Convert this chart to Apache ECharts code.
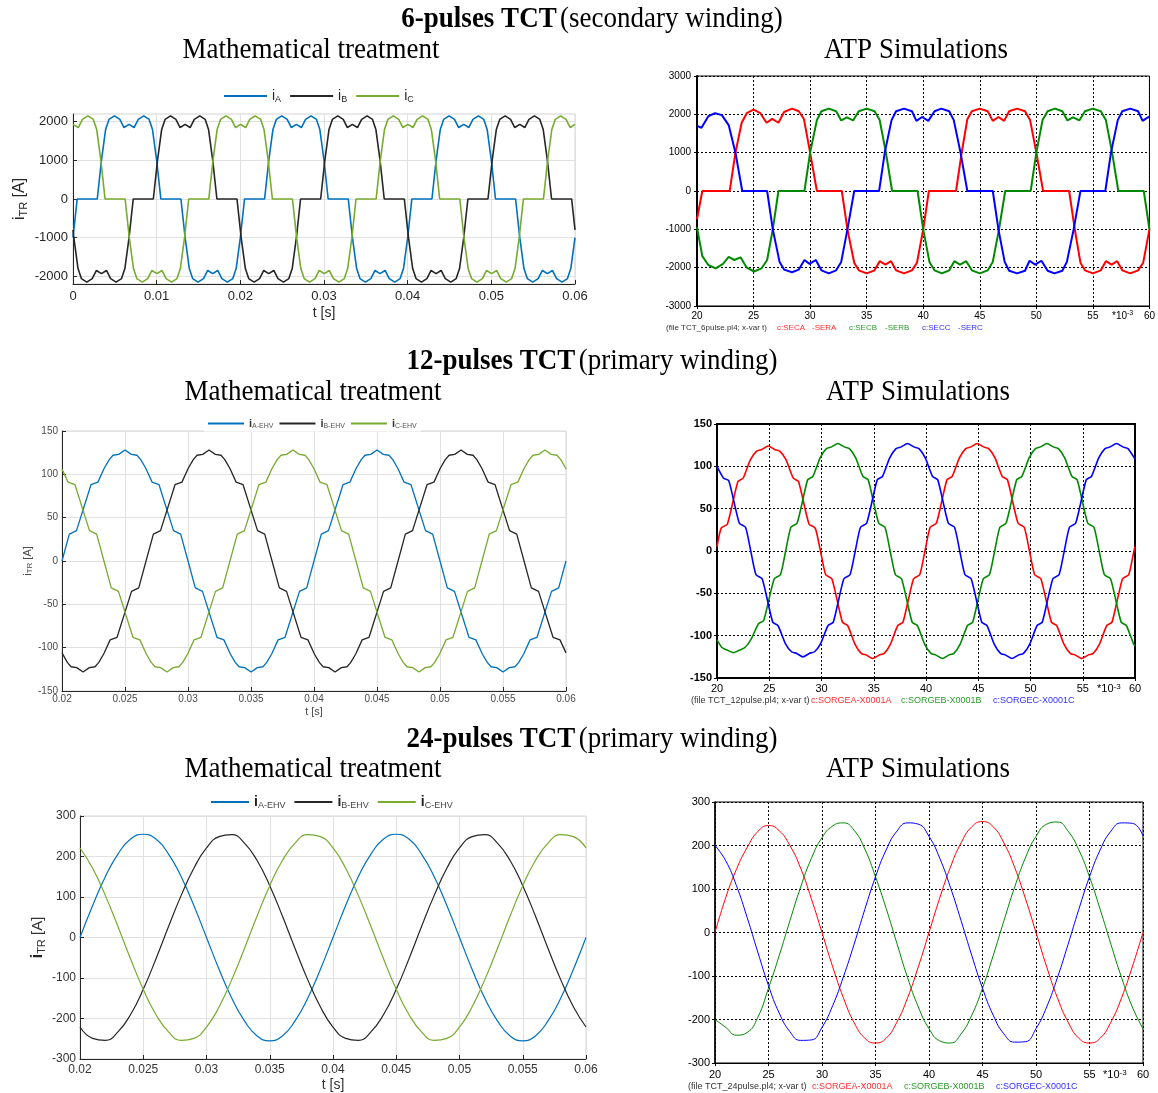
<!DOCTYPE html>
<html><head><meta charset="utf-8">
<script src="https://cdn.jsdelivr.net/npm/echarts@6/dist/echarts.min.js"></script>
<style>html,body{margin:0;padding:0;background:#fff}#c{width:1158px;height:1093px}</style>
</head><body><div id="c"></div>
<script>
// ===== DATA (time in ms, current in A) =====
// 6-pulse, mathematical treatment
const math6A = [[0,-1000],[0.5,0],[2.9,0],[3.4,1000],[3.9,1800],[4.3,2060],[4.95,2150],[5.6,2060],[6.1,1850],[6.7,1930],[7.3,1850],[7.8,2060],[8.45,2150],[9.1,2060],[9.5,1800],[10,1000],[10.5,0],
[12.9,0],[13.4,-1000],[13.9,-1800],[14.3,-2060],[14.95,-2150],[15.6,-2060],[16.1,-1850],[16.7,-1930],[17.3,-1850],[17.8,-2060],[18.45,-2150],[19.1,-2060],[19.5,-1800],[20,-1000],[20.5,0],
[22.9,0],[23.4,1000],[23.9,1800],[24.3,2060],[24.95,2150],[25.6,2060],[26.1,1850],[26.7,1930],[27.3,1850],[27.8,2060],[28.45,2150],[29.1,2060],[29.5,1800],[30,1000],[30.5,0],
[32.9,0],[33.4,-1000],[33.9,-1800],[34.3,-2060],[34.95,-2150],[35.6,-2060],[36.1,-1850],[36.7,-1930],[37.3,-1850],[37.8,-2060],[38.45,-2150],[39.1,-2060],[39.5,-1800],[40,-1000],[40.5,0],
[42.9,0],[43.4,1000],[43.9,1800],[44.3,2060],[44.95,2150],[45.6,2060],[46.1,1850],[46.7,1930],[47.3,1850],[47.8,2060],[48.45,2150],[49.1,2060],[49.5,1800],[50,1000],[50.5,0],
[52.9,0],[53.4,-1000],[53.9,-1800],[54.3,-2060],[54.95,-2150],[55.6,-2060],[56.1,-1850],[56.7,-1930],[57.3,-1850],[57.8,-2060],[58.45,-2150],[59.1,-2060],[59.5,-1800],[60,-1000]];
const math6B = [[0,-800],[0.1,-1000],[0.6,-1800],[1.0,-2060],[1.65,-2150],[2.3,-2060],[2.8,-1850],[3.4,-1930],[4.0,-1850],[4.5,-2060],[5.15,-2150],[5.8,-2060],[6.2,-1800],[6.7,-1000],[7.2,0],
[9.6,0],[10.1,1000],[10.6,1800],[11.0,2060],[11.65,2150],[12.3,2060],[12.8,1850],[13.4,1930],[14.0,1850],[14.5,2060],[15.15,2150],[15.8,2060],[16.2,1800],[16.7,1000],[17.2,0],
[19.6,0],[20.1,-1000],[20.6,-1800],[21.0,-2060],[21.65,-2150],[22.3,-2060],[22.8,-1850],[23.4,-1930],[24.0,-1850],[24.5,-2060],[25.15,-2150],[25.8,-2060],[26.2,-1800],[26.7,-1000],[27.2,0],
[29.6,0],[30.1,1000],[30.6,1800],[31.0,2060],[31.65,2150],[32.3,2060],[32.8,1850],[33.4,1930],[34.0,1850],[34.5,2060],[35.15,2150],[35.8,2060],[36.2,1800],[36.7,1000],[37.2,0],
[39.6,0],[40.1,-1000],[40.6,-1800],[41.0,-2060],[41.65,-2150],[42.3,-2060],[42.8,-1850],[43.4,-1930],[44.0,-1850],[44.5,-2060],[45.15,-2150],[45.8,-2060],[46.2,-1800],[46.7,-1000],[47.2,0],
[49.6,0],[50.1,1000],[50.6,1800],[51.0,2060],[51.65,2150],[52.3,2060],[52.8,1850],[53.4,1930],[54.0,1850],[54.5,2060],[55.15,2150],[55.8,2060],[56.2,1800],[56.7,1000],[57.2,0],
[59.6,0],[60,-800]];
const math6C = [[0,1930],[0.63,1850],[1.13,2060],[1.78,2150],[2.43,2060],[2.83,1800],[3.33,1000],[3.83,0],
[6.23,0],[6.73,-1000],[7.23,-1800],[7.63,-2060],[8.28,-2150],[8.93,-2060],[9.43,-1850],[10.03,-1930],[10.63,-1850],[11.13,-2060],[11.78,-2150],[12.43,-2060],[12.83,-1800],[13.33,-1000],[13.83,0],
[16.23,0],[16.73,1000],[17.23,1800],[17.63,2060],[18.28,2150],[18.93,2060],[19.43,1850],[20.03,1930],[20.63,1850],[21.13,2060],[21.78,2150],[22.43,2060],[22.83,1800],[23.33,1000],[23.83,0],
[26.23,0],[26.73,-1000],[27.23,-1800],[27.63,-2060],[28.28,-2150],[28.93,-2060],[29.43,-1850],[30.03,-1930],[30.63,-1850],[31.13,-2060],[31.78,-2150],[32.43,-2060],[32.83,-1800],[33.33,-1000],[33.83,0],
[36.23,0],[36.73,1000],[37.23,1800],[37.63,2060],[38.28,2150],[38.93,2060],[39.43,1850],[40.03,1930],[40.63,1850],[41.13,2060],[41.78,2150],[42.43,2060],[42.83,1800],[43.33,1000],[43.83,0],
[46.23,0],[46.73,-1000],[47.23,-1800],[47.63,-2060],[48.28,-2150],[48.93,-2060],[49.43,-1850],[50.03,-1930],[50.63,-1850],[51.13,-2060],[51.78,-2150],[52.43,-2060],[52.83,-1800],[53.33,-1000],[53.83,0],
[56.23,0],[56.73,1000],[57.23,1800],[57.63,2060],[58.28,2150],[58.93,2060],[59.43,1850],[60,1930]];

// 6-pulse, ATP simulation
const atp6A = [[20,-740],[20.47,0],[22.89,0],[23.4,1000],[23.95,1780],[24.4,2030],[25,2120],[25.6,2030],[26.15,1780],[26.65,1880],[27.2,1780],[27.7,2060],[28.4,2150],[29,2080],[29.45,1880],[30,1000],[30.6,0],
[32.8,0],[33.3,-1000],[33.9,-1870],[34.3,-2070],[35,-2150],[35.7,-2070],[36.15,-1830],[36.65,-1920],[37.15,-1830],[37.6,-2070],[38.3,-2150],[39,-2070],[39.45,-1870],[40,-1000],[40.5,0],
[42.9,0],[43.4,1000],[43.9,1870],[44.3,2080],[45,2150],[45.7,2080],[46.15,1830],[46.65,1930],[47.15,1830],[47.6,2080],[48.3,2150],[49,2080],[49.45,1850],[50,1000],[50.6,0],
[52.9,0],[53.4,-1000],[53.9,-1870],[54.3,-2070],[55,-2150],[55.7,-2070],[56.15,-1830],[56.65,-1920],[57.15,-1830],[57.6,-2070],[58.3,-2150],[59,-2070],[59.45,-1870],[60,-1000]];
const atp6B = [[20,-950],[20.47,-1700],[21,-1930],[21.65,-2020],[22.3,-1900],[22.8,-1720],[23.3,-1800],[23.85,-1730],[24.4,-2000],[25.05,-2100],[25.7,-2020],[26.2,-1800],[26.7,-1000],[27.2,0],
[29.5,0],[30,1000],[30.6,1850],[31,2080],[31.65,2150],[32.3,2080],[32.75,1840],[33.25,1920],[33.8,1840],[34.3,2080],[35,2150],[35.7,2080],[36.15,1850],[36.7,1000],[37.25,0],
[39.5,0],[40,-1000],[40.55,-1850],[41,-2070],[41.65,-2150],[42.3,-2070],[42.75,-1830],[43.25,-1920],[43.8,-1830],[44.3,-2070],[45,-2150],[45.7,-2070],[46.15,-1850],[46.7,-1000],[47.25,0],
[49.5,0],[50,1000],[50.55,1850],[51,2080],[51.65,2150],[52.3,2080],[52.75,1840],[53.25,1920],[53.8,1840],[54.3,2080],[55,2150],[55.7,2080],[56.15,1850],[56.7,1000],[57.25,0],
[59.5,0],[60,-1000]];
const atp6C = [[20,1700],[20.4,1650],[21,1950],[21.6,2030],[22.2,1980],[22.8,1720],[23.4,1000],[24,0],
[26.2,0],[26.7,-1000],[27.3,-1850],[27.7,-2050],[28.4,-2120],[29,-2050],[29.5,-1800],[29.95,-1900],[30.5,-1800],[31,-2070],[31.65,-2150],[32.3,-2070],[32.75,-1850],[33.3,-1000],[33.9,0],
[36.1,0],[36.6,1000],[37.2,1850],[37.6,2080],[38.3,2150],[39,2080],[39.4,1830],[39.9,1930],[40.45,1830],[41,2080],[41.6,2150],[42.3,2080],[42.7,1850],[43.3,1000],[43.9,0],
[46.15,0],[46.65,-1000],[47.2,-1850],[47.6,-2080],[48.3,-2150],[49,-2080],[49.4,-1820],[49.9,-1920],[50.45,-1820],[51,-2080],[51.6,-2150],[52.3,-2080],[52.7,-1850],[53.3,-1000],[53.9,0],
[56.1,0],[56.6,1000],[57.2,1850],[57.6,2080],[58.3,2150],[59,2080],[59.4,1830],[59.9,1930],[60,1920]];

// 12-pulse, mathematical treatment
const math12A = [[20,0],[20.58,31],[21.15,35],[22.3,88],[22.85,91],[23.35,107],[23.75,117],[24.05,122],[24.5,123],[25,128],[25.5,123],[25.95,122],[26.25,117],[26.65,107],[27.15,91],[27.7,88],[28.85,35],[29.42,31],[30,0],
[30.58,-31],[31.15,-35],[32.3,-88],[32.85,-91],[33.35,-107],[33.75,-117],[34.05,-122],[34.5,-123],[35,-128],[35.5,-123],[35.95,-122],[36.25,-117],[36.65,-107],[37.15,-91],[37.7,-88],[38.85,-35],[39.42,-31],[40,0],
[40.58,31],[41.15,35],[42.3,88],[42.85,91],[43.35,107],[43.75,117],[44.05,122],[44.5,123],[45,128],[45.5,123],[45.95,122],[46.25,117],[46.65,107],[47.15,91],[47.7,88],[48.85,35],[49.42,31],[50,0],
[50.58,-31],[51.15,-35],[52.3,-88],[52.85,-91],[53.35,-107],[53.75,-117],[54.05,-122],[54.5,-123],[55,-128],[55.5,-123],[55.95,-122],[56.25,-117],[56.65,-107],[57.15,-91],[57.7,-88],[58.85,-35],[59.42,-31],[60,0]];
const math12B = [[20,-106],[20.42,-117],[20.72,-122],[21.17,-123],[21.67,-128],[22.17,-123],[22.62,-122],[22.92,-117],[23.32,-107],[23.82,-91],[24.37,-88],[25.52,-35],[26.09,-31],[26.67,0],
[27.25,31],[27.82,35],[28.97,88],[29.52,91],[30.02,107],[30.42,117],[30.72,122],[31.17,123],[31.67,128],[32.17,123],[32.62,122],[32.92,117],[33.32,107],[33.82,91],[34.37,88],[35.52,35],[36.09,31],[36.67,0],
[37.25,-31],[37.82,-35],[38.97,-88],[39.52,-91],[40.02,-107],[40.42,-117],[40.72,-122],[41.17,-123],[41.67,-128],[42.17,-123],[42.62,-122],[42.92,-117],[43.32,-107],[43.82,-91],[44.37,-88],[45.52,-35],[46.09,-31],[46.67,0],
[47.25,31],[47.82,35],[48.97,88],[49.52,91],[50.02,107],[50.42,117],[50.72,122],[51.17,123],[51.67,128],[52.17,123],[52.62,122],[52.92,117],[53.32,107],[53.82,91],[54.37,88],[55.52,35],[56.09,31],[56.67,0],
[57.25,-31],[57.82,-35],[58.97,-88],[59.52,-91],[60,-106]];
const math12C = [[20,106],[20.48,91],[21.03,88],[22.18,35],[22.75,31],[23.33,0],
[23.91,-31],[24.48,-35],[25.63,-88],[26.18,-91],[26.68,-107],[27.08,-117],[27.38,-122],[27.83,-123],[28.33,-128],[28.83,-123],[29.28,-122],[29.58,-117],[29.98,-107],[30.48,-91],[31.03,-88],[32.18,-35],[32.75,-31],[33.33,0],
[33.91,31],[34.48,35],[35.63,88],[36.18,91],[36.68,107],[37.08,117],[37.38,122],[37.83,123],[38.33,128],[38.83,123],[39.28,122],[39.58,117],[39.98,107],[40.48,91],[41.03,88],[42.18,35],[42.75,31],[43.33,0],
[43.91,-31],[44.48,-35],[45.63,-88],[46.18,-91],[46.68,-107],[47.08,-117],[47.38,-122],[47.83,-123],[48.33,-128],[48.83,-123],[49.28,-122],[49.58,-117],[49.98,-107],[50.48,-91],[51.03,-88],[52.18,-35],[52.75,-31],[53.33,0],
[53.91,31],[54.48,35],[55.63,88],[56.18,91],[56.68,107],[57.08,117],[57.38,122],[57.83,123],[58.33,128],[58.83,123],[59.28,122],[59.58,117],[59.98,107],[60,106]];

// 12-pulse, ATP simulation
const atp12A = [[20,5],[20.4,27],[21,32],[22,82],[22.5,86],[23.2,108],[23.8,118],[24.3,120],[24.9,124],[25.5,120],[26,118],[26.6,108],[27.3,86],[27.8,82],[28.8,32],[29.4,27],[29.9,0],
[30.4,-28],[31,-33],[32,-84],[32.5,-88],[33.2,-110],[33.8,-121],[34.3,-123],[34.9,-127],[35.5,-123],[36,-121],[36.6,-110],[37.3,-88],[37.8,-84],[38.8,-33],[39.4,-28],[39.9,0],
[40.4,28],[41,33],[42,84],[42.5,88],[43.2,110],[43.8,121],[44.3,123],[44.9,127],[45.5,123],[46,121],[46.6,110],[47.3,88],[47.8,84],[48.8,33],[49.4,28],[49.9,0],
[50.4,-28],[51,-33],[52,-84],[52.5,-88],[53.2,-110],[53.8,-121],[54.3,-123],[54.9,-127],[55.5,-123],[56,-121],[56.6,-110],[57.3,-88],[57.8,-84],[58.8,-33],[59.4,-28],[59.9,0],[60,5]];
const atp12B = [[20,-105],[20.47,-114],[20.97,-117],[21.57,-120],[22.17,-117],[22.67,-114],[23.27,-104],[23.97,-86],[24.47,-82],[25.47,-33],[26.07,-28],[26.57,0],
[27.07,28],[27.67,33],[28.67,84],[29.17,88],[29.87,110],[30.47,121],[30.97,123],[31.57,127],[32.17,123],[32.67,121],[33.27,110],[33.97,88],[34.47,84],[35.47,33],[36.07,28],[36.57,0],
[37.07,-28],[37.67,-33],[38.67,-84],[39.17,-88],[39.87,-110],[40.47,-121],[40.97,-123],[41.57,-127],[42.17,-123],[42.67,-121],[43.27,-110],[43.97,-88],[44.47,-84],[45.47,-33],[46.07,-28],[46.57,0],
[47.07,28],[47.67,33],[48.67,84],[49.17,88],[49.87,110],[50.47,121],[50.97,123],[51.57,127],[52.17,123],[52.67,121],[53.27,110],[53.97,88],[54.47,84],[55.47,33],[56.07,28],[56.57,0],
[57.07,-28],[57.67,-33],[58.67,-84],[59.17,-88],[59.87,-110],[60,-112]];
const atp12C = [[20,100],[20.63,86],[21.13,83],[22.13,33],[22.73,28],[23.23,0],
[23.73,-28],[24.33,-33],[25.33,-84],[25.83,-88],[26.53,-109],[27.13,-119],[27.63,-121],[28.23,-125],[28.83,-121],[29.33,-119],[29.93,-109],[30.63,-88],[31.13,-84],[32.13,-33],[32.73,-28],[33.23,0],
[33.73,28],[34.33,33],[35.33,84],[35.83,88],[36.53,110],[37.13,121],[37.63,123],[38.23,127],[38.83,123],[39.33,121],[39.93,110],[40.63,88],[41.13,84],[42.13,33],[42.73,28],[43.23,0],
[43.73,-28],[44.33,-33],[45.33,-84],[45.83,-88],[46.53,-110],[47.13,-121],[47.63,-123],[48.23,-127],[48.83,-123],[49.33,-121],[49.93,-110],[50.63,-88],[51.13,-84],[52.13,-33],[52.73,-28],[53.23,0],
[53.73,28],[54.33,33],[55.33,84],[55.83,88],[56.53,110],[57.13,121],[57.63,123],[58.23,127],[58.83,123],[59.33,121],[59.93,110],[60,108]];

// 24-pulse (sampled every 1 ms, 20..60 ms)
const t24 = [20,21,22,23,24,25,26,27,28,29,30,31,32,33,34,35,36,37,38,39,40,41,42,43,44,45,46,47,48,49,50,51,52,53,54,55,56,57,58,59,60];
const math24A = [0,79,150,206,243,255,243,206,150,79,0,-79,-150,-206,-243,-255,-243,-206,-150,-79,0,79,150,206,243,255,243,206,150,79,0,-79,-150,-206,-243,-255,-243,-206,-150,-79,0];
const math24B = [-221,-249,-254,-233,-190,-128,-53,27,104,171,221,249,254,233,190,128,53,-27,-104,-171,-221,-249,-254,-233,-190,-128,-53,27,104,171,221,249,254,233,190,128,53,-27,-104,-171,-221];
const math24C = [221,171,104,27,-53,-128,-190,-233,-254,-249,-221,-171,-104,-27,53,128,190,233,254,249,221,171,104,27,-53,-128,-190,-233,-254,-249,-221,-171,-104,-27,53,128,190,233,254,249,221];
const atp24A = [0,80,145,195,232,246,234,200,148,78,0,-79,-150,-207,-243,-254,-243,-206,-150,-79,0,79,150,206,243,255,243,206,150,79,0,-79,-150,-206,-243,-254,-243,-206,-150,-79,0];
const atp24B = [-200,-218,-236,-230,-195,-128,-53,27,104,170,218,245,252,235,192,128,55,-25,-104,-171,-221,-249,-254,-233,-190,-128,-53,27,104,171,221,249,254,233,190,128,53,-27,-104,-171,-221];
const atp24C = [200,165,108,35,-45,-122,-185,-228,-248,-247,-218,-168,-102,-27,53,128,190,233,252,249,221,171,104,27,-53,-128,-190,-233,-252,-251,-221,-171,-104,-27,53,128,190,233,252,251,222];

// tick values
const yTicks6math = [-2000,-1000,0,1000,2000];

// ===== CHART =====
const FS = '"Liberation Sans", Arial, sans-serif';
const SERIF = '"Liberation Serif", "Times New Roman", serif';
const pair = (vals) => t24.map((t,i)=>[t, vals[i]]);
const chart = echarts.init(document.getElementById('c'));

const grids = [
  {left:73, top:114, width:502, height:170, show:true, borderColor:'#d4d4d4', borderWidth:1},
  {left:697, top:76, width:456, height:230, show:true, borderColor:'#000', borderWidth:1},
  {left:62, top:431, width:504, height:260, show:true, borderColor:'#d4d4d4', borderWidth:1},
  {left:717, top:424, width:418, height:254, show:true, borderColor:'#000', borderWidth:2},
  {left:80, top:816, width:506, height:243, show:true, borderColor:'#d4d4d4', borderWidth:1},
  {left:715, top:802, width:428, height:261, show:true, borderColor:'#000', borderWidth:1}
];

function mathX(i, o){
  return {gridIndex:i, type:'value', min:o.min, max:o.max, interval:o.int,
    axisLine:{show:true,onZero:false,lineStyle:{color:'#262626',width:1}},
    axisTick:{show:true,inside:true,length:4,lineStyle:{color:'#262626'}},
    axisLabel:{color:o.lc, fontSize:o.fs, fontFamily:FS, margin:o.m, formatter:v=>String(+(v/1000).toFixed(4))},
    splitLine:{show:true,lineStyle:{color:'#e1e1e1',width:1}},
    name:'t [s]', nameLocation:'middle', nameGap:o.ng, nameTextStyle:{fontSize:o.nfs, color:o.lc, fontFamily:FS}};
}
function mathY(i, o){
  const ax = {gridIndex:i, type:'value', min:o.min, max:o.max,
    axisLine:{show:true,onZero:false,lineStyle:{color:'#262626',width:1}},
    axisTick:{show:true,inside:true,length:4,lineStyle:{color:'#262626'}},
    axisLabel:{color:o.lc, fontSize:o.fs, fontFamily:FS, margin:o.m, formatter:v=>String(v)},
    splitLine:{show:true,lineStyle:{color:'#e1e1e1',width:1}},
    name:o.name, nameLocation:'middle', nameRotate:90, nameGap:o.ng,
    nameTextStyle:{color:o.lc, fontFamily:FS, rich:o.rich}};
  if (o.int) ax.interval = o.int;
  if (o.ticks){ ax.axisLabel.customValues = o.ticks; ax.axisTick.customValues = o.ticks; }
  return ax;
}
function atpX(i, o){
  return {gridIndex:i, type:'value', min:20, max:60, interval:5,
    axisLine:{show:true,onZero:false,lineStyle:{color:'#000',width:1}},
    axisTick:{show:true,inside:false,length:3,lineStyle:{color:'#000'}},
    axisLabel:{color:'#000', fontSize:o.fs, fontFamily:FS, margin:o.m, formatter:v=>String(v)},
    splitLine:{show:true,lineStyle:{color:'#000',width:1,type:[2,2]}}};
}
function atpY(i, o){
  return {gridIndex:i, type:'value', min:o.min, max:o.max, interval:o.int,
    axisLine:{show:true,onZero:false,lineStyle:{color:'#000',width:o.lw||1.5}},
    axisTick:{show:true,inside:false,length:3,lineStyle:{color:'#000'}},
    axisLabel:{color:'#000', fontSize:o.fs, fontFamily:FS, margin:o.m, formatter:v=>String(v)},
    splitLine:{show:true,lineStyle:{color:'#000',width:1,type:[2,2]}}};
}

const xAxis = [
  mathX(0,{min:0,max:60,int:10,lc:'#262626',fs:13,m:6,ng:22,nfs:14}),
  atpX(1,{fs:10,m:5}),
  mathX(2,{min:20,max:60,int:5,lc:'#4a4a4a',fs:10,m:3,ng:15,nfs:11}),
  atpX(3,{fs:11,m:5}),
  mathX(4,{min:20,max:60,int:5,lc:'#333',fs:12,m:5,ng:19,nfs:14}),
  atpX(5,{fs:11,m:6})
];
const yAxis = [
  mathY(0,{min:-2200,max:2200,ticks:yTicks6math,lc:'#262626',fs:13,m:5,ng:44,
    name:'{m|i}{s|TR}{m| [A]}', rich:{m:{fontSize:16,lineHeight:18,fontFamily:FS,color:'#262626'},s:{fontSize:11,lineHeight:6,verticalAlign:'bottom',fontFamily:FS,color:'#262626'}}}),
  atpY(1,{min:-3000,max:3000,int:1000,fs:10,m:6,lw:2}),
  mathY(2,{min:-150,max:150,int:50,lc:'#4a4a4a',fs:10,m:4,ng:27,
    name:'{m|i}{s|TR}{m| [A]}', rich:{m:{fontSize:11,lineHeight:12,fontFamily:FS,color:'#4a4a4a'},s:{fontSize:8,lineHeight:4,verticalAlign:'bottom',fontFamily:FS,color:'#4a4a4a'}}}),
  atpY(3,{min:-150,max:150,int:50,fs:11,m:5,lw:2}),
  mathY(4,{min:-300,max:300,int:100,lc:'#333',fs:12,m:4,ng:33,
    name:'{b|i}{s|TR}{m| [A]}', rich:{b:{fontSize:16,fontWeight:'bold',lineHeight:18,fontFamily:FS,color:'#222'},m:{fontSize:15,lineHeight:18,fontFamily:FS,color:'#333'},s:{fontSize:11,lineHeight:6,verticalAlign:'bottom',fontFamily:FS,color:'#333'}}}),
  atpY(5,{min:-300,max:300,int:100,fs:11,m:5,lw:1.5})
];
yAxis[3].axisLabel.fontWeight = 'bold';

const MB='#0072BD', MK='#262626', MG='#77AC30';
const AR='#ff0000', AG='#008a00', AB='#0000ff';
function ln(name, gi, data, color, w){
  return {name, type:'line', xAxisIndex:gi, yAxisIndex:gi, data, showSymbol:false, symbol:'none',
    lineStyle:{color, width:w}, itemStyle:{color}, animation:false, silent:true, clip:true};
}
const series = [
  ln('A6',0,math6A,MB,1.6), ln('B6',0,math6B,MK,1.6), ln('C6',0,math6C,MG,1.6),
  ln('SECA',1,atp6A,AR,2), ln('SECB',1,atp6B,AG,2), ln('SECC',1,atp6C,AB,2),
  ln('A12',2,math12A,MB,1.3), ln('B12',2,math12B,MK,1.3), ln('C12',2,math12C,MG,1.3),
  ln('SORGEA12',3,atp12A,AR,1.6), ln('SORGEB12',3,atp12B,AG,1.6), ln('SORGEC12',3,atp12C,AB,1.6),
  ln('A24',4,pair(math24A),MB,1.2), ln('B24',4,pair(math24B),MK,1.2), ln('C24',4,pair(math24C),MG,1.2),
  ln('SORGEA24',5,pair(atp24A),AR,1), ln('SORGEB24',5,pair(atp24B),AG,1), ln('SORGEC24',5,pair(atp24C),AB,1)
];
series.slice(9,12).forEach(s=>{ s.smooth = 0.2; });
series.slice(12).forEach(s=>{ s.smooth = true; });

const legend = [
  {left:224, top:89, padding:0, itemWidth:43, itemHeight:2, itemGap:9, icon:'rect', selectedMode:false,
   data:['A6','B6','C6'], formatter:n=>'{m|i}{s|'+n[0]+'}',
   textStyle:{rich:{m:{fontSize:14,lineHeight:16,fontFamily:FS,color:'#262626'},s:{fontSize:9,lineHeight:6,verticalAlign:'bottom',fontFamily:FS,color:'#262626'}}}},
  {left:204, top:416, padding:[2,4,2,4], backgroundColor:'#fff', itemWidth:36, itemHeight:2, itemGap:6, icon:'rect', selectedMode:false,
   data:['A12','B12','C12'], formatter:n=>'{m|i}{s|'+n[0]+'-EHV}',
   textStyle:{rich:{m:{fontSize:11,fontWeight:'bold',lineHeight:12,fontFamily:FS,color:'#333'},s:{fontSize:7,lineHeight:4,verticalAlign:'bottom',fontFamily:FS,color:'#555'}}}},
  {left:211, top:795, padding:0, itemWidth:38, itemHeight:2, itemGap:9, icon:'rect', selectedMode:false,
   data:['A24','B24','C24'], formatter:n=>'{m|i}{s|'+n[0]+'-EHV}',
   textStyle:{rich:{m:{fontSize:14,fontWeight:'bold',lineHeight:16,fontFamily:FS,color:'#222'},s:{fontSize:9,lineHeight:6,verticalAlign:'bottom',fontFamily:FS,color:'#444'}}}}
];

function txt(x, y, text, style){
  return {type:'text', x, y, scaleY:1.12, silent:true, z:10,
    style:Object.assign({text, textAlign:'center', textVerticalAlign:'middle', align:'center', verticalAlign:'middle', fill:'#000'}, style)};
}
const titleRich = {b:{fontSize:27,fontWeight:'bold',fontFamily:SERIF,fill:'#000'}, n:{fontSize:27,fontFamily:SERIF,fill:'#000'}};
const subFont = '27px ' + SERIF;
const graphic = [
  txt(592,19,'{b|6-pulses TCT} {n|(secondary winding)}',{rich:titleRich}),
  txt(311,50,'Mathematical treatment',{font:subFont}),
  txt(916,50,'ATP Simulations',{font:subFont}),
  txt(592,361,'{b|12-pulses TCT} {n|(primary winding)}',{rich:titleRich}),
  txt(313,392,'Mathematical treatment',{font:subFont}),
  txt(918,392,'ATP Simulations',{font:subFont}),
  txt(592,739,'{b|24-pulses TCT} {n|(primary winding)}',{rich:titleRich}),
  txt(313,769,'Mathematical treatment',{font:subFont}),
  txt(918,769,'ATP Simulations',{font:subFont})
];
function foot(x, y, text, color, size){
  return {type:'text', x, y, silent:true, z:10,
    style:{text, textAlign:'left', textVerticalAlign:'middle', align:'left', verticalAlign:'middle', fill:color, font:size+'px '+FS}};
}
const FR='#ff3030', FG='#2a9a2a', FB='#3030ff', FK='#333';
graphic.push(
  foot(666,328,'(file TCT_6pulse.pl4; x-var t)',FK,8), foot(777,328,'c:SECA',FR,8), foot(812,328,'-SERA',FR,8),
  foot(849,328,'c:SECB',FG,8), foot(885,328,'-SERB',FG,8), foot(922,328,'c:SECC',FB,8), foot(958,328,'-SERC',FB,8),
  foot(691,701,'(file TCT_12pulse.pl4; x-var t)',FK,9), foot(811,701,'c:SORGEA-X0001A',FR,9),
  foot(901,701,'c:SORGEB-X0001B',FG,9), foot(993,701,'c:SORGEC-X0001C',FB,9),
  foot(688,1087,'(file TCT_24pulse.pl4; x-var t)',FK,9), foot(812,1087,'c:SORGEA-X0001A',FR,9),
  foot(904,1087,'c:SORGEB-X0001B',FG,9), foot(996,1087,'c:SORGEC-X0001C',FB,9)
);
const expRich = (fs)=>({a:{fontSize:fs,fontFamily:FS,fill:'#000',lineHeight:fs+2}, s:{fontSize:fs-3,fontFamily:FS,fill:'#000',lineHeight:4,verticalAlign:'top'}});
graphic.push(
  {type:'text', x:1112, y:316, silent:true, z:10, style:{text:'{a|*10}{s|-3}', rich:expRich(10), textAlign:'left', align:'left', textVerticalAlign:'middle', verticalAlign:'middle'}},
  {type:'text', x:1097, y:689, silent:true, z:10, style:{text:'{a|*10}{s|-3}', rich:expRich(11), textAlign:'left', align:'left', textVerticalAlign:'middle', verticalAlign:'middle'}},
  {type:'text', x:1103, y:1075, silent:true, z:10, style:{text:'{a|*10}{s|-3}', rich:expRich(11), textAlign:'left', align:'left', textVerticalAlign:'middle', verticalAlign:'middle'}}
);

chart.setOption({backgroundColor:'#fff', animation:false, grid:grids, xAxis, yAxis, series, legend, graphic});
</script></body></html>
